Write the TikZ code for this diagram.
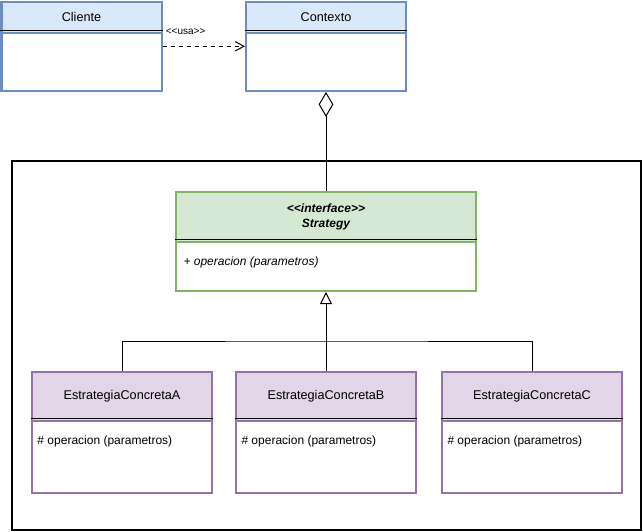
\documentclass[tikz,border=0pt]{standalone}
\usepackage{fontspec}
\setmainfont{Liberation Sans}
\usetikzlibrary{arrows.meta,positioning}

\definecolor{blueFill}{HTML}{DAE8FC}
\definecolor{blueLine}{HTML}{6C8EBF}
\definecolor{greenFill}{HTML}{D5E8D4}
\definecolor{greenLine}{HTML}{82B366}
\definecolor{purpleFill}{HTML}{E1D5E7}
\definecolor{purpleLine}{HTML}{9673A6}

% stereotype brackets, kern keeps << from turning into a guillemet
\newcommand{\stereo}[1]{<\kern0pt<#1>\kern0pt>}

\tikzset{every picture/.style={line width=0.75pt}}
\tikzset{
  clsbox/.style={draw=#1, fill=white, line width=1.5pt, inner sep=0pt},
  clshead/.style 2 args={draw=#1, fill=#2, line width=1.5pt, inner sep=0pt, align=center, font=\fontsize{9.5}{12}\selectfont},
  sepline/.style={line width=1pt, draw=black},
  optext/.style={anchor=west, inner sep=0pt, font=\fontsize{9}{11}\selectfont},
}

\begin{document}
\begin{tikzpicture}[x=0.75pt,y=0.75pt,yscale=-1,xscale=1]
	\useasboundingbox (0,0) rectangle (643,532);
	
	%Shape: Rectangle [outer frame]
	\draw [line width=1pt] (12,161) rectangle (641,530);
	
	%Class: Cliente
	\node [clsbox=blueLine, minimum width=120pt, minimum height=67pt] (cliente) at (81.5,46.25) {};
	\node [clshead={blueLine}{blueFill}, minimum width=120pt, minimum height=23.25pt, anchor=north] (clienteHead) at (cliente.north) {Cliente};
	\draw [sepline] ([yshift=-2.5pt]clienteHead.south west) -- ([yshift=-2.5pt]clienteHead.south east);
	
	%Class: Contexto
	\node [clsbox=blueLine, minimum width=120pt, minimum height=67pt] (contexto) at (326,46.25) {};
	\node [clshead={blueLine}{blueFill}, minimum width=120pt, minimum height=23.25pt, anchor=north] (contextoHead) at (contexto.north) {Contexto};
	\draw [sepline] ([yshift=-2.5pt]contextoHead.south west) -- ([yshift=-2.5pt]contextoHead.south east);
	
	%Interface: Strategy
	\node [clsbox=greenLine, minimum width=225pt, minimum height=74.25pt] (strategy) at (326,241.5) {};
	\node [clshead={greenLine}{greenFill}, minimum width=225pt, minimum height=37.5pt, anchor=north, font=\fontsize{9}{11}\selectfont] (strategyHead) at (strategy.north) {\bfseries\itshape \stereo{interface}\\\bfseries\itshape Strategy};
	\draw [sepline] ([yshift=-2.5pt]strategyHead.south west) -- ([yshift=-2.5pt]strategyHead.south east);
	% Text Node
	\node [optext] (strategyOp) at (183,262) {\itshape + operacion (parametros)};
	
	%Class: EstrategiaConcretaA
	\node [clsbox=purpleLine, minimum width=135pt, minimum height=90.75pt] (estA) at (122,432.5) {};
	\node [clshead={purpleLine}{purpleFill}, minimum width=135pt, minimum height=36.75pt, anchor=north] (estAHead) at (estA.north) {EstrategiaConcretaA};
	\draw [sepline] ([yshift=-2.5pt]estAHead.south west) -- ([yshift=-2.5pt]estAHead.south east);
	% Text Node
	\node [optext] (estAOp) at (37,441) {\# operacion (parametros)};
	
	%Class: EstrategiaConcretaB
	\node [clsbox=purpleLine, minimum width=135pt, minimum height=90.75pt] (estB) at (326,432.5) {};
	\node [clshead={purpleLine}{purpleFill}, minimum width=135pt, minimum height=36.75pt, anchor=north] (estBHead) at (estB.north) {EstrategiaConcretaB};
	\draw [sepline] ([yshift=-2.5pt]estBHead.south west) -- ([yshift=-2.5pt]estBHead.south east);
	% Text Node
	\node [optext] (estBOp) at (241,441) {\# operacion (parametros)};
	
	%Class: EstrategiaConcretaC
	\node [clsbox=purpleLine, minimum width=135pt, minimum height=90.75pt] (estC) at (532,432.5) {};
	\node [clshead={purpleLine}{purpleFill}, minimum width=135pt, minimum height=36.75pt, anchor=north] (estCHead) at (estC.north) {EstrategiaConcretaC};
	\draw [sepline] ([yshift=-2.5pt]estCHead.south west) -- ([yshift=-2.5pt]estCHead.south east);
	% Text Node
	\node [optext] (estCOp) at (447,441) {\# operacion (parametros)};
	
	% Connection: usa
	\draw [dashed, -{Straight Barb[length=6.5pt,width=7pt]}] (cliente.east) -- (contexto.west) node [pos=0.28, above=8pt, inner sep=0pt, font=\fontsize{7.5}{9}\selectfont] (usaLabel) {\stereo{usa}};
	% Connection: aggregation
	\draw [{Diamond[open,length=18.75pt,width=11pt]}-] (contexto.south) -- (strategy.north);
	% Connection: realization
	\coordinate (split) at (326,341);
	\draw (estA.north) |- (split) -| (estC.north);
	\draw [-{Triangle[open,length=9pt,width=9pt]}] (estB.north) -- (strategy.south);
	
\end{tikzpicture}
\end{document}
